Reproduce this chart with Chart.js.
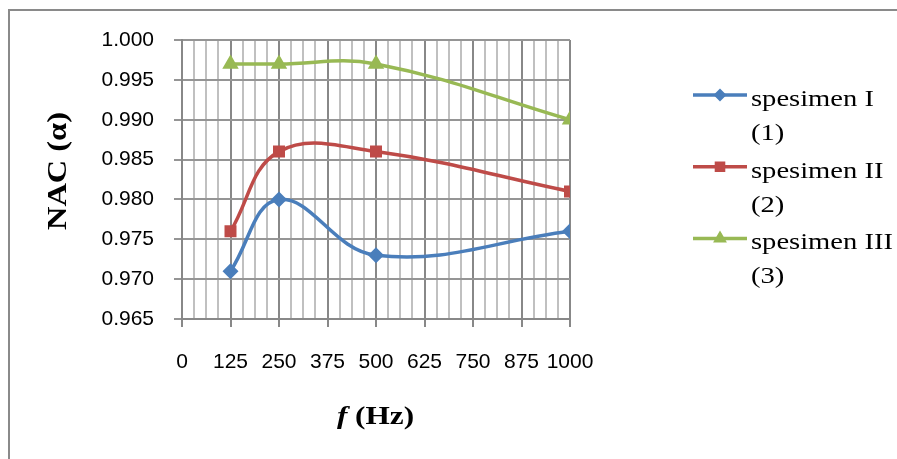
<!DOCTYPE html>
<html>
<head>
<meta charset="utf-8">
<script src="https://cdn.jsdelivr.net/npm/chart.js@4"></script>
<style>
  html, body { margin: 0; padding: 0; background: #fff; }
  #wrap { width: 897px; height: 459px; position: relative; }
</style>
</head>
<body>
<div id="wrap"><canvas id="nacChart" width="897" height="459"></canvas></div>
<script>
// data
var frequencies = [125, 250, 500, 1000];
var spesimen1 = [0.971, 0.980, 0.973, 0.976];
var spesimen2 = [0.976, 0.986, 0.986, 0.981];
var spesimen3 = [0.997, 0.997, 0.997, 0.990];
var seriesNames = [["spesimen I", "(1)"], ["spesimen II", "(2)"], ["spesimen III", "(3)"]];
var xTickLabels = [0, 125, 250, 375, 500, 625, 750, 875, 1000];
var yTickLabels = [0.965, 0.970, 0.975, 0.980, 0.985, 0.990, 0.995, 1.000];

function toPoints(values) {
  return frequencies.map(function(f, i) { return { x: f, y: values[i] }; });
}

var colors = ["#4A7EBB", "#BE4B48", "#98B954"];

// draws text stretched sideways, the picture's fonts are wide
function wideText(ctx, text, x, y, font, sx) {
  ctx.save();
  ctx.translate(x, y);
  ctx.scale(sx, 1);
  ctx.font = font;
  ctx.fillText(text, 0, 0);
  ctx.restore();
}

var framePlugin = {
  id: "frame",
  beforeDraw: function(chart) {
    var ctx = chart.ctx;
    ctx.save();
    ctx.fillStyle = "#fff";
    ctx.fillRect(0, 0, chart.width, chart.height);
    ctx.strokeStyle = "#8a8a8a";
    ctx.lineWidth = 2;
    ctx.strokeRect(9, 10, 900, 470);
    ctx.restore();
  }
};

var textPlugin = {
  id: "extraText",
  afterDraw: function(chart) {
    var ctx = chart.ctx;
    ctx.save();
    ctx.fillStyle = "#000";
    ctx.textBaseline = "alphabetic";
    ctx.textAlign = "left";

    // legend on the right, two lines per entry
    chart.data.datasets.forEach(function(ds, i) {
      var ly = 95 + i * 71.7;
      ctx.strokeStyle = ds.borderColor;
      ctx.lineWidth = 3.5;
      ctx.beginPath();
      ctx.moveTo(693, ly);
      ctx.lineTo(747, ly);
      ctx.stroke();
      ctx.fillStyle = ds.borderColor;
      Chart.helpers.drawPoint(ctx, {
        pointStyle: ds.pointStyle, radius: ds.legendRadius, borderWidth: 1, rotation: 0
      }, 720, ly);
      ctx.fillStyle = "#000";
      var lines = seriesNames[i];
      wideText(ctx, lines[0], 751, ly + 11, "24px 'Liberation Serif'", 1.19);
      wideText(ctx, lines[1], 751, ly + 45, "24px 'Liberation Serif'", 1.19);
    });

    // y title, rotated
    ctx.save();
    ctx.translate(59, 171);
    ctx.rotate(-Math.PI / 2);
    ctx.scale(1.2, 1);
    ctx.font = "bold 27px 'Liberation Serif'";
    ctx.textAlign = "center";
    ctx.textBaseline = "middle";
    ctx.fillText("NAC (\u03b1)", 0, 0);
    ctx.restore();

    // x title, italic f
    var sx = 1.25;
    ctx.font = "italic bold 25px 'Liberation Serif'";
    var wf = ctx.measureText("f").width;
    ctx.font = "bold 25px 'Liberation Serif'";
    var wr = ctx.measureText(" (Hz)").width;
    var x0 = 375.5 - (wf + wr) * sx / 2;
    wideText(ctx, "f", x0, 424, "italic bold 25px 'Liberation Serif'", sx);
    wideText(ctx, " (Hz)", x0 + wf * sx, 424, "bold 25px 'Liberation Serif'", sx);
    ctx.restore();
  }
};

var ctx = document.getElementById("nacChart").getContext("2d");

var nacChart = new Chart(ctx, {
  type: "line",
  data: {
    datasets: [
      { label: seriesNames[0].join(" "), data: toPoints(spesimen1), borderColor: colors[0], backgroundColor: colors[0],
        pointStyle: "rectRot", pointRadius: 5.5, legendRadius: 4 },
      { label: seriesNames[1].join(" "), data: toPoints(spesimen2), borderColor: colors[1], backgroundColor: colors[1],
        pointStyle: "rect", pointRadius: 6, legendRadius: 5 },
      { label: seriesNames[2].join(" "), data: toPoints(spesimen3), borderColor: colors[2], backgroundColor: colors[2],
        pointStyle: "triangle", pointRadius: 6, legendRadius: 4.5 }
    ]
  },
  options: {
    responsive: false,
    animation: false,
    devicePixelRatio: 1,
    layout: { padding: { left: 0, top: 40, right: 327, bottom: 0 } },
    datasets: {
      line: { borderWidth: 3.5, tension: 0.4 }
    },
    elements: {
      point: { borderWidth: 1, hoverRadius: 5 }
    },
    scales: {
      x: {
        type: "linear",
        min: 0,
        max: 1000,
        afterFit: function(scale) { scale.height = 140; },
        ticks: {
          stepSize: 31.25,
          autoSkip: false,
          maxRotation: 0,
          padding: 23,
          color: "#000",
          font: { family: "'Liberation Sans'", size: 21 },
          callback: function(v) { return xTickLabels.indexOf(v) >= 0 ? String(v) : ""; }
        },
        grid: {
          color: function(c) { return c.tick && c.tick.value % 125 === 0 ? "#888888" : "#c0c0c0"; },
          tickColor: function(c) { return c.tick && c.tick.value % 125 === 0 ? "#888888" : "rgba(0,0,0,0)"; },
          lineWidth: 2,
          tickLength: 8
        },
        border: { color: "#888888", width: 2 }
      },
      y: {
        min: 0.965,
        max: 1.0,
        afterFit: function(scale) { scale.width = 182; },
        afterBuildTicks: function(scale) {
          scale.ticks = yTickLabels.map(function(v) { return { value: v }; });
        },
        ticks: {
          padding: 20,
          color: "#000",
          font: { family: "'Liberation Sans'", size: 21 },
          callback: function(v) { return Number(v).toFixed(3); }
        },
        grid: { color: "#959595", lineWidth: 2, tickLength: 8 },
        border: { color: "#888888", width: 2 }
      }
    },
    plugins: {
      legend: { display: false },
      tooltip: { enabled: false }
    }
  },
  plugins: [framePlugin, textPlugin]
});
</script>
</body>
</html>
